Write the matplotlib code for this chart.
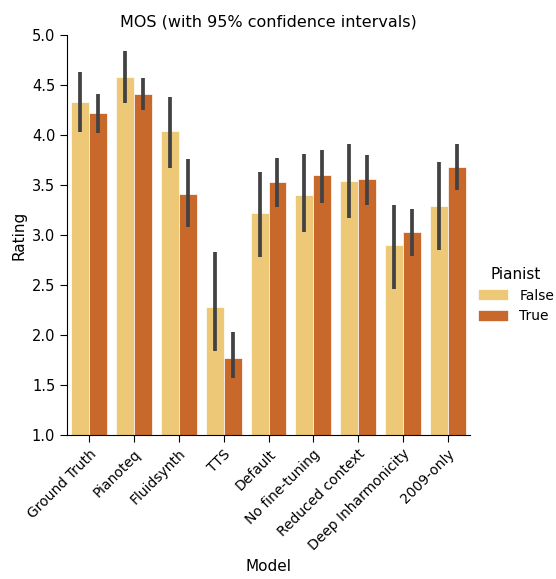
import matplotlib
matplotlib.use("Agg")
import matplotlib.pyplot as plt
import numpy as np

plt.rcParams["font.family"] = ["DejaVu Sans"]

models = ["Ground Truth", "Pianoteq", "Fluidsynth", "TTS", "Default",
          "No fine-tuning", "Reduced context", "Deep Inharmonicity", "2009-only"]
false_mean = [4.33, 4.58, 4.04, 2.28, 3.22, 3.40, 3.54, 2.90, 3.29]
false_lo = [4.03, 4.32, 3.67, 1.84, 2.78, 3.03, 3.17, 2.46, 2.85]
false_hi = [4.63, 4.84, 4.38, 2.83, 3.63, 3.81, 3.91, 3.30, 3.73]
true_mean = [4.22, 4.41, 3.41, 1.77, 3.53, 3.60, 3.56, 3.03, 3.68]
true_lo = [4.02, 4.25, 3.08, 1.57, 3.28, 3.32, 3.30, 2.79, 3.45]
true_hi = [4.41, 4.57, 3.76, 2.03, 3.77, 3.85, 3.80, 3.26, 3.91]
hue_labels = ["False", "True"]
colors = ["#ECC877", "#C8682A"]

fig = plt.figure(figsize=(5.56, 5.79), dpi=100)
ax = fig.add_axes([67/556, 1 - 435/579, 403/556, 400/579])

x = np.arange(len(models))
w = 0.4
for i, (m, lo, hi) in enumerate([(false_mean, false_lo, false_hi), (true_mean, true_lo, true_hi)]):
    pos = x - w/2 + i*w
    ax.bar(pos, np.array(m) - 1.0, bottom=1.0, width=w, color=colors[i],
           edgecolor="white", linewidth=0.5, label=hue_labels[i])
    ax.vlines(pos, lo, hi, color="#424242", linewidth=2.7)

ax.set_ylim(1.0, 5.0)
ax.set_xlim(-0.5, len(models) - 0.5)
ax.set_yticks(np.arange(1.0, 5.01, 0.5))
ax.set_yticklabels([f"{v:.1f}" for v in np.arange(1.0, 5.01, 0.5)], fontsize=10.5)
ax.set_xticks(x)
ax.set_xticklabels(models, rotation=45, ha="right", rotation_mode="anchor", fontsize=10)
ax.tick_params(length=5)
ax.spines["top"].set_visible(False)
ax.spines["right"].set_visible(False)
ax.set_ylabel("Rating", fontsize=11)
ax.set_xlabel("Model", fontsize=11)
ax.set_title("MOS (with 95% confidence intervals)", fontsize=11.5)

leg = fig.legend(title="Pianist", loc="center left", bbox_to_anchor=(465/556, 1 - 295/579),
                 frameon=False, fontsize=10, title_fontsize=11, handlelength=2.2, handleheight=0.9)

fig.savefig("out.png", dpi=100)
